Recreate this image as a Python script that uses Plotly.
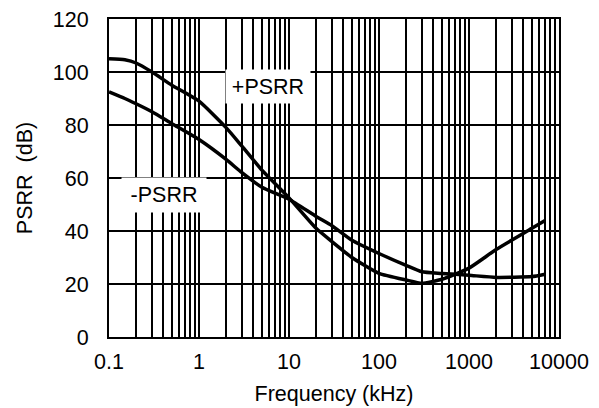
import plotly.graph_objects as go

# Data
freq_khz = [0.1, 0.15, 0.2, 0.3, 0.5, 1, 2, 3, 5, 10, 20, 30, 50, 100, 200, 300, 500, 1000, 2000, 5000, 7000]
psrr_pos = [105, 104.6, 103.4, 100, 95, 89, 79, 72, 63, 52.5, 41, 36, 30, 24, 21.5, 20.3, 21.8, 26, 33, 41, 44]
psrr_neg = [92.5, 90, 88, 85, 80.5, 74.5, 67, 62, 56.5, 52, 45.5, 42, 36.5, 31.5, 27, 24.6, 24, 23.3, 22.5, 22.8, 23.7]

x_tick_vals = [0.1, 1, 10, 100, 1000, 10000]
x_tick_text = ["0.1", "1", "10", "100", "1000", "10000"]
y_tick_vals = [0, 20, 40, 60, 80, 100, 120]

minor_vals = [m * 10 ** e for e in range(-1, 4) for m in range(2, 10)]

FONT = "Liberation Sans, Arial, sans-serif"
FS = 21.5

fig = go.Figure()
for ys in (psrr_pos, psrr_neg):
    fig.add_trace(go.Scatter(
        x=freq_khz, y=ys, mode="lines",
        line=dict(color="black", width=3.5, shape="spline", smoothing=0.5),
        showlegend=False, hoverinfo="skip",
    ))

fig.add_annotation(x=0.77, y=94.6, xref="x", yref="y",
                   text="+PSRR", showarrow=False, bgcolor="white",
                   width=82, height=31, font=dict(family=FONT, size=FS, color="black"))
fig.add_annotation(x=-0.39, y=53.4, xref="x", yref="y",
                   text="-PSRR", showarrow=False, bgcolor="white",
                   width=82, height=32, font=dict(family=FONT, size=FS, color="black"))

fig.update_xaxes(
    type="log", range=[-1, 4], automargin=False, ticklabeloverflow="allow",
    tickvals=x_tick_vals, ticktext=x_tick_text,
    showgrid=True, gridcolor="black", gridwidth=2,
    minor=dict(tickvals=minor_vals, showgrid=True, gridcolor="black", gridwidth=2, ticks=""),
    showline=True, linecolor="black", linewidth=2, mirror=True,
    ticks="outside", ticklen=4, tickcolor="rgba(0,0,0,0)",
    tickfont=dict(family=FONT, size=FS, color="black"),
    title=dict(text="Frequency (kHz)", font=dict(family=FONT, size=FS, color="black"), standoff=13),
    zeroline=False,
)
fig.update_yaxes(
    range=[0, 120], tickvals=y_tick_vals, automargin=False, ticklabeloverflow="allow",
    showgrid=True, gridcolor="black", gridwidth=2,
    showline=True, linecolor="black", linewidth=2, mirror=True,
    ticks="outside", ticklen=14, tickcolor="rgba(0,0,0,0)",
    tickfont=dict(family=FONT, size=FS, color="black"),
    title=dict(text="PSRR  (dB)", font=dict(family=FONT, size=FS, color="black"), standoff=14),
    zeroline=False,
)
fig.update_layout(
    width=591, height=400,
    margin=dict(l=101, r=40, t=11, b=71),
    paper_bgcolor="white", plot_bgcolor="white",
    font=dict(family=FONT, size=FS, color="black"),
)
fig.write_html("out.html")
